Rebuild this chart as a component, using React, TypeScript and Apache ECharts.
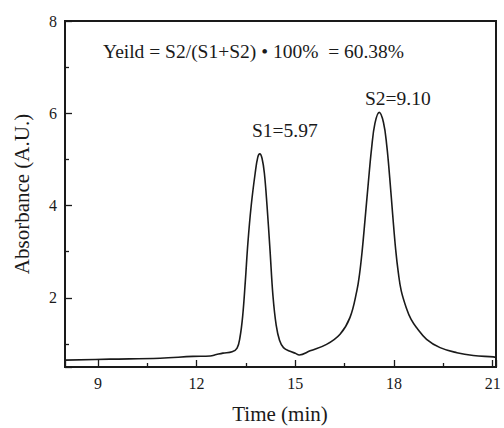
import React, { useEffect, useRef } from "react";
import * as echarts from "echarts";

const timeMin: number[] = [
  8.0, 9.37, 10.89, 11.89, 12.41, 12.6, 12.8, 13.08, 13.23, 13.32, 13.4, 13.48, 13.56, 13.66, 13.78, 13.86,
  13.92, 13.99, 14.06, 14.14, 14.23, 14.32, 14.42, 14.52, 14.64, 14.84, 15.0, 15.12, 15.45, 15.95, 16.36,
  16.66, 16.87, 16.95, 17.03, 17.12, 17.22, 17.32, 17.42, 17.55, 17.68, 17.78, 17.87, 17.96, 18.05, 18.13,
  18.22, 18.38, 18.52, 18.69, 18.99, 19.4, 19.91, 20.41, 21.02, 21.1,
];
const absorbance: number[] = [
  0.65, 0.67, 0.69, 0.73, 0.74, 0.77, 0.8, 0.83, 0.91, 1.15, 1.6, 2.35, 3.2, 4.0, 4.7, 5.05,
  5.12, 5.02, 4.7, 4.0, 3.05, 2.05, 1.4, 1.08, 0.92, 0.84, 0.8, 0.76, 0.85, 0.99, 1.21,
  1.57, 2.15, 2.5, 3.0, 3.7, 4.5, 5.25, 5.78, 6.02, 5.8, 5.3, 4.6, 3.8, 3.05, 2.55,
  2.15, 1.77, 1.53, 1.35, 1.1, 0.92, 0.81, 0.75, 0.72, 0.71,
];
const xRange: number[] = [8, 21.1];
const yRange: number[] = [0.5, 8];
const xStep = 3;
const yStep = 2;
const axisTitles: string[] = ["Time (min)", "Absorbance (A.U.)"];
const annotations: string[] = ["Yeild = S2/(S1+S2) • 100%  = 60.38%", "S1=5.97", "S2=9.10"];

const INK = "#1a1a1a";
const FONT = "Liberation Serif";

const axisBase = (isX: boolean) => ({
  type: "value",
  gridIndex: 0,
  min: isX ? xRange[0] : yRange[0],
  max: isX ? xRange[1] : yRange[1],
  axisLine: { show: true, onZero: false, lineStyle: { color: INK, width: 2 } },
  axisTick: { show: true, inside: true, length: 7, lineStyle: { color: INK, width: 1.3 } },
  minorTick: { show: true, splitNumber: 2, length: 4, lineStyle: { color: INK, width: 1.3 } },
  splitLine: { show: false },
  axisLabel: {
    fontFamily: FONT,
    fontSize: 16,
    color: INK,
    margin: 8,
    formatter: (v: number) => (Math.abs(v % (isX ? xStep : yStep)) < 1e-9 ? String(v) : ""),
  },
});

export default function App() {
  const ref = useRef<HTMLDivElement>(null);
  useEffect(() => {
    if (!ref.current) return;
    const chart = echarts.init(ref.current, null, { renderer: "svg" });
    const data = timeMin.map((t, i) => [t, absorbance[i]]);
    chart.setOption({
      animation: false,
      grid: [
        {
          left: 65,
          right: 8,
          top: 21,
          bottom: 61,
          containLabel: false,
          outerBoundsMode: "none",
          show: true,
          borderColor: INK,
          borderWidth: 2,
        },
      ],
      xAxis: [axisBase(true)],
      yAxis: [axisBase(false)],
      series: [
        {
          type: "line",
          xAxisIndex: 0,
          yAxisIndex: 0,
          data,
          smooth: 0.4,
          symbol: "none",
          lineStyle: { color: INK, width: 1.6 },
        },
      ],
      graphic: [
        {
          type: "text",
          x: 280,
          y: 414,
          style: { text: axisTitles[0], fontFamily: FONT, fontSize: 21, fill: INK, align: "center", verticalAlign: "middle" },
        },
        {
          type: "text",
          x: 22,
          y: 194,
          rotation: Math.PI / 2,
          style: { text: axisTitles[1], fontFamily: FONT, fontSize: 21, fill: INK, align: "center", verticalAlign: "middle" },
        },
        {
          type: "text",
          left: 103,
          top: 41,
          style: { text: annotations[0], fontFamily: FONT, fontSize: 19.5, fill: INK },
        },
        {
          type: "text",
          left: 252,
          top: 120,
          style: { text: annotations[1], fontFamily: FONT, fontSize: 19.5, fill: INK },
        },
        {
          type: "text",
          left: 365,
          top: 88,
          style: { text: annotations[2], fontFamily: FONT, fontSize: 19.5, fill: INK },
        },
      ],
    });
    return () => chart.dispose();
  }, []);
  return <div ref={ref} style={{ width: 504, height: 428, position: "absolute", left: 0, top: 0 }} />;
}
